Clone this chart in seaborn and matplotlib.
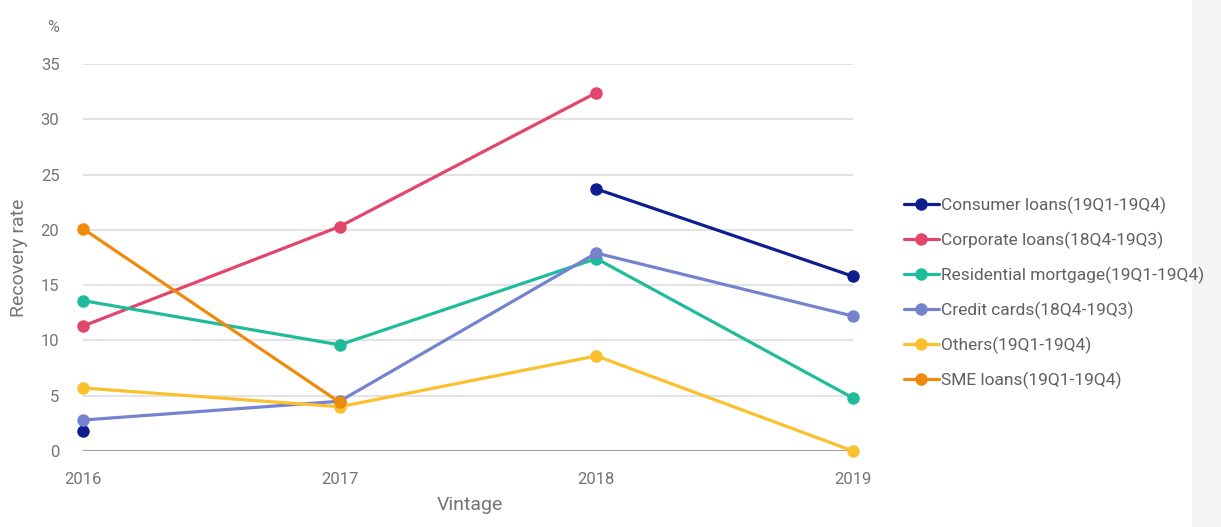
import numpy as np
import pandas as pd
import matplotlib
matplotlib.use("Agg")
import matplotlib.pyplot as plt
import seaborn as sns
from matplotlib.lines import Line2D
from matplotlib.patches import Rectangle

years = [2016, 2017, 2018, 2019]
series_names = [
    "Consumer loans(19Q1-19Q4)",
    "Corporate loans(18Q4-19Q3)",
    "Residential mortgage(19Q1-19Q4)",
    "Credit cards(18Q4-19Q3)",
    "Others(19Q1-19Q4)",
    "SME loans(19Q1-19Q4)",
]
consumer = [1.8, np.nan, 23.7, 15.8]
corporate = [11.3, 20.3, 32.4, np.nan]
residential = [13.6, 9.6, 17.4, 4.8]
credit = [2.8, 4.5, 17.9, 12.2]
others = [5.7, 4.0, 8.6, 0.0]
sme = [20.1, 4.4, np.nan, np.nan]
colors = ["#0d1f8f", "#e2466a", "#1fbc9c", "#7583cf", "#fbc02d", "#ef8a0c"]

all_values = [consumer, corporate, residential, credit, others, sme]

rows = []
for name, vals in zip(series_names, all_values):
    seg = 0
    prev_nan = True
    for x, v in zip(years, vals):
        if np.isnan(v):
            prev_nan = True
            continue
        if prev_nan:
            seg += 1
        prev_nan = False
        rows.append({"series": name, "year": x, "value": v, "seg": f"{name}-{seg}"})
df = pd.DataFrame(rows)

sns.set_theme(style="white")
plt.rcParams["font.family"] = ["Roboto", "DejaVu Sans"]

fig = plt.figure(figsize=(12.21, 5.27), dpi=100)
fig.patch.set_facecolor("white")
fig.add_artist(Rectangle((1192 / 1221, 0), 29 / 1221, 1, transform=fig.transFigure,
                         facecolor="#f5f5f5", edgecolor="none", zorder=-10))
ax = fig.add_axes([83 / 1221, (527 - 451) / 527, (853 - 83) / 1221, (451 - 64) / 527])

palette = dict(zip(series_names, colors))
sns.lineplot(data=df, x="year", y="value", hue="series", units="seg", estimator=None,
             palette=palette, marker="o", markersize=9, markeredgewidth=0,
             linewidth=2.3, ax=ax, legend=False, sort=True, zorder=3)
for ln in ax.lines:
    ln.set_clip_on(False)

ax.set_xlim(2016, 2019)
ax.set_ylim(0, 35)
ax.set_yticks(range(0, 36, 5))
ax.set_xticks(years)
ax.set_xticklabels([str(y) for y in years])
for sp in ax.spines.values():
    sp.set_visible(False)
for t in range(5, 36, 5):
    ax.axhline(t, color="#e0e0e0", lw=1.3, zorder=0)
ax.axhline(0, color="#9e9e9e", lw=1.5, zorder=1)
ax.tick_params(axis="both", length=0, labelsize=12, colors="#757575")
ax.tick_params(axis="y", pad=17)
ax.tick_params(axis="x", pad=15)
ax.set_xlabel("Vintage", fontsize=14, color="#757575")
ax.xaxis.set_label_coords((470 - 83) / 770, -(496 - 451) / 387)
ax.set_ylabel("Recovery rate", fontsize=14, color="#757575")
ax.yaxis.set_label_coords(-(83 - 28) / 770, 0.5)
fig.text(53 / 1221, 1 - 28 / 527, "%", fontsize=11.5, color="#757575", ha="center", va="center")

handles = [Line2D([0], [0], color=c, lw=2.3, marker="o", markersize=9, markeredgewidth=0)
           for c in colors]
leg = fig.legend(handles, series_names, loc="upper left",
                 bbox_to_anchor=(897 / 1221, 1 - 190 / 527), frameon=False,
                 fontsize=12.5, labelcolor="#616161", handlelength=2.0,
                 handletextpad=0.15, labelspacing=1.02, borderaxespad=0)

fig.savefig("out.png", dpi=100)
